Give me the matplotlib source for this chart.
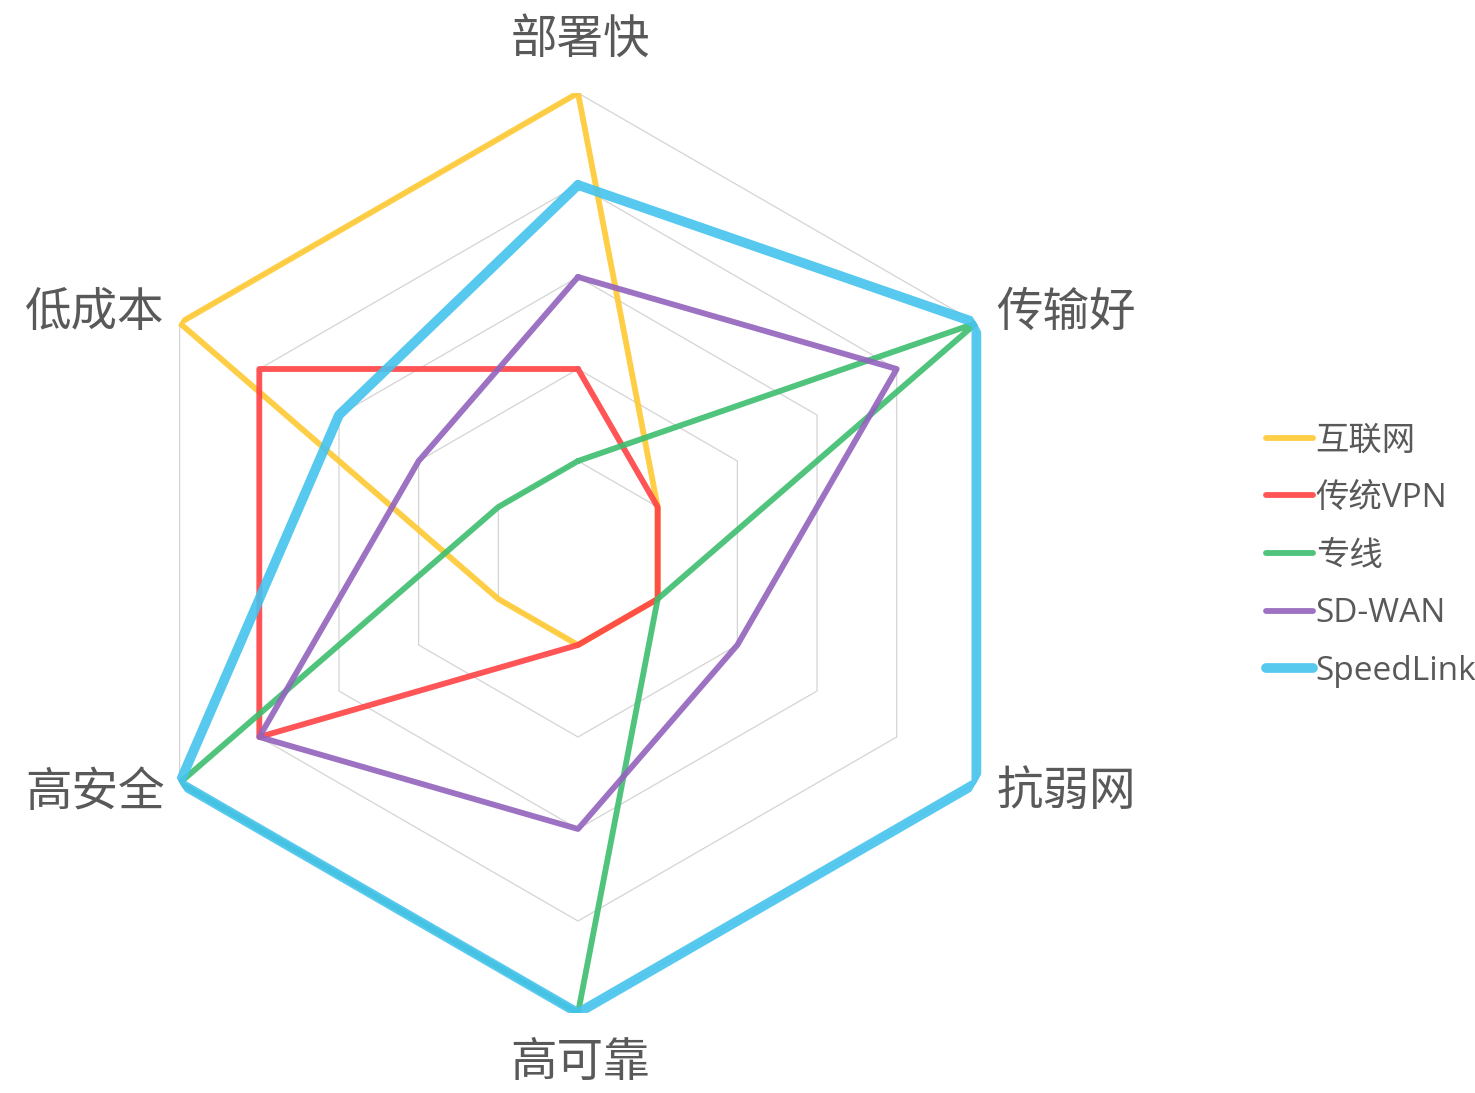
import numpy as np
import matplotlib
matplotlib.use("Agg")
import matplotlib.pyplot as plt

plt.rcParams['font.family'] = ['Open Sans', 'Noto Sans CJK SC', 'DejaVu Sans']

categories = ["部署快", "传输好", "抗弱网", "高可靠", "高安全", "低成本"]
series_names = ["互联网", "传统VPN", "专线", "SD-WAN", "SpeedLink"]
internet = [5, 1, 1, 1, 1, 5]
vpn = [2, 1, 1, 1, 4, 4]
leased = [1, 5, 1, 5, 5, 1]
sdwan = [3, 4, 2, 3, 4, 2]
speedlink = [4, 5, 5, 5, 5, 3]
levels = [1, 2, 3, 4, 5]

colors = ["#FFC933", "#FF4245", "#3DBE6E", "#9263BD", "#45C3EE"]
widths = [4.2, 4.2, 4.2, 4.2, 7.0]
text_color = "#595959"

angles = np.deg2rad(np.arange(len(categories)) * 60.0)
closed = np.append(angles, angles[0])

fig = plt.figure(figsize=(14.75, 10.93), dpi=100)
ax = fig.add_axes([118 / 1475, 80 / 1093, 920 / 1475, 920 / 1093], projection="polar")
ax.set_theta_offset(np.pi / 2)
ax.set_theta_direction(-1)
ax.set_ylim(0, 5)
ax.set_xticks([])
ax.set_yticks([])
ax.grid(False)
ax.spines["polar"].set_visible(False)
ax.patch.set_visible(False)

# hexagon grid
for lv in levels:
    ax.plot(closed, [lv] * (len(categories) + 1), color="#d4d4d4", lw=0.9, zorder=1)

all_series = [internet, vpn, leased, sdwan, speedlink]
handles = []
for name, vals, c, w in zip(series_names, all_series, colors, widths):
    h, = ax.plot(closed, vals + vals[:1], color=c, lw=w, alpha=0.9,
                 solid_joinstyle="round", solid_capstyle="round",
                 label=name, zorder=3)
    handles.append(h)

# axis labels, offsets in pixels from the outer vertex
offsets = [(2, 53, "center"), (20, 10, "left"), (20, -9, "left"),
           (2, -50, "center"), (-15, -10, "right"), (-15, 10, "right")]
for ang, lab, (dx, dy, ha) in zip(angles, categories, offsets):
    ax.annotate(lab, xy=(ang, 5), xytext=(dx, dy), textcoords="offset pixels",
                ha=ha, va="center", fontsize=33.5, color=text_color,
                family=["Noto Sans CJK SC", "DejaVu Sans"], annotation_clip=False)

leg = fig.legend(handles=handles, loc="upper left",
                 bbox_to_anchor=(1253 / 1475, 1 - 411 / 1093),
                 frameon=False, fontsize=24, handlelength=1.4,
                 handletextpad=0.08, labelspacing=0.74, borderaxespad=0)
for t in leg.get_texts():
    t.set_color(text_color)

fig.savefig("out.png", dpi=100)
